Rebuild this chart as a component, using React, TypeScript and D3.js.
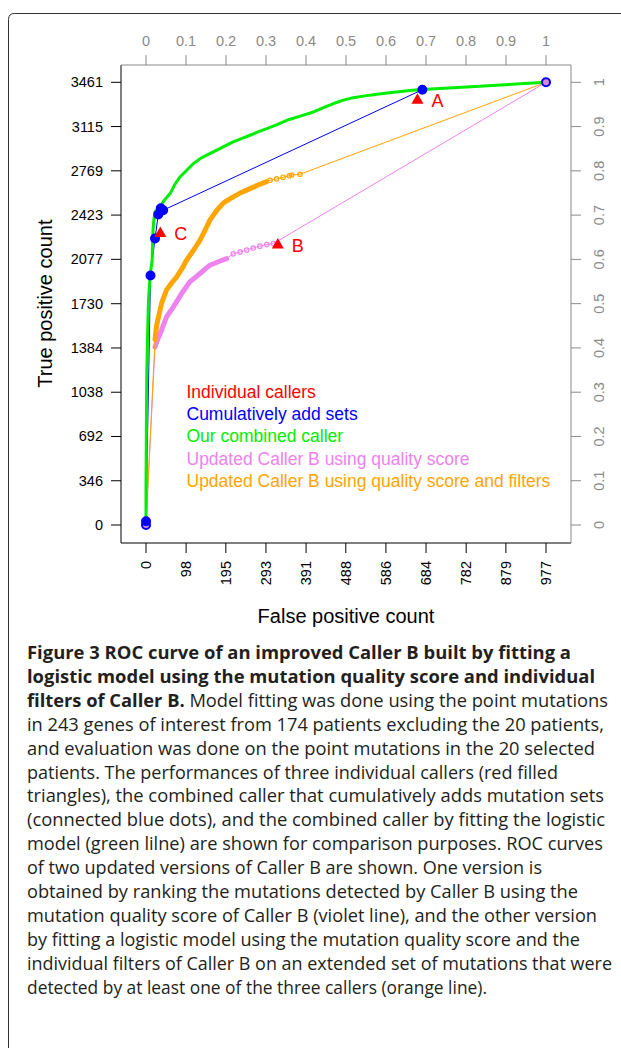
import React from "react";
import * as d3 from "d3";

// axis ticks
const fpTicks = [0, 98, 195, 293, 391, 488, 586, 684, 782, 879, 977];
const tpTicks = [0, 346, 692, 1038, 1384, 1730, 2077, 2423, 2769, 3115, 3461];
const fracTicks = [0, 0.1, 0.2, 0.3, 0.4, 0.5, 0.6, 0.7, 0.8, 0.9, 1];

// our combined caller (green)
const greenFp = [0, 0, 1, 2, 4, 6, 9, 12, 15, 17, 19, 22, 34, 45, 59, 70, 83, 100, 116, 135, 156, 185, 213, 233, 254, 275, 295, 320, 344, 375, 409, 435, 458, 480, 506, 535, 564, 595, 628, 650, 675, 977];
const greenTp = [0, 300, 800, 1200, 1500, 1750, 1900, 2000, 2070, 2300, 2380, 2448, 2487, 2540, 2591, 2660, 2721, 2775, 2826, 2870, 2904, 2950, 2995, 3020, 3047, 3075, 3099, 3130, 3164, 3195, 3229, 3265, 3295, 3320, 3341, 3355, 3367, 3380, 3391, 3398, 3404, 3461];

// cumulatively add sets (blue)
const blueFp = [0, 0, 11, 22, 30, 36, 42, 675, 977];
const blueTp = [0, 30, 1951, 2240, 2427, 2477, 2461, 3403, 3461];

// individual callers (red)
const callerNames = ["A", "B", "C"];
const callerFp = [663, 322, 35];
const callerTp = [3333, 2200, 2291];

// updated Caller B, quality score + filters (orange)
const orangeDenseFp = [22, 26, 38, 50, 62, 75, 87, 99, 116, 132, 145, 156, 173, 190, 213, 233, 254, 275, 295];
const orangeDenseTp = [1450, 1562, 1732, 1836, 1890, 1940, 2000, 2070, 2148, 2227, 2310, 2383, 2461, 2520, 2565, 2600, 2630, 2660, 2685];
const orangeSparseFp = [303, 319, 335, 350, 356, 376];
const orangeSparseTp = [2695, 2706, 2719, 2730, 2736, 2742];

// updated Caller B, quality score (violet)
const violetDenseFp = [22, 26, 38, 50, 67, 87, 107, 132, 156, 178, 197];
const violetDenseTp = [1393, 1430, 1523, 1627, 1705, 1810, 1901, 1966, 2031, 2060, 2083];
const violetSparseFp = [213, 230, 246, 262, 278, 295, 311];
const violetSparseTp = [2120, 2135, 2150, 2165, 2180, 2193, 2200];

const legendItems = [
  "Individual callers",
  "Cumulatively add sets",
  "Our combined caller",
  "Updated Caller B using quality score",
  "Updated Caller B using quality score and filters",
];
const legendColors = ["#ff0000", "#0000ff", "#00ee00", "#ee82ee", "#ffa500"];

const captionBold = [
  "Figure 3 ROC curve of an improved Caller B built by fitting a",
  "logistic model using the mutation quality score and individual",
  "filters of Caller B.",
];
const captionLines = [
  "",
  "",
  " Model fitting was done using the point mutations",
  "in 243 genes of interest from 174 patients excluding the 20 patients,",
  "and evaluation was done on the point mutations in the 20 selected",
  "patients. The performances of three individual callers (red filled",
  "triangles), the combined caller that cumulatively adds mutation sets",
  "(connected blue dots), and the combined caller by fitting the logistic",
  "model (green lilne) are shown for comparison purposes. ROC curves",
  "of two updated versions of Caller B are shown. One version is",
  "obtained by ranking the mutations detected by Caller B using the",
  "mutation quality score of Caller B (violet line), and the other version",
  "by fitting a logistic model using the mutation quality score and the",
  "individual filters of Caller B on an extended set of mutations that were",
  "detected by at least one of the three callers (orange line).",
];
const captionEnds = [571, 595, 608, 604, 595, 558, 604, 605, 603, 542, 578, 597, 580, 612, 487];

const zip = (a: number[], b: number[]) => a.map((v, i) => [v, b[i]] as [number, number]);

export default function App() {
  const x = d3.scaleLinear().domain([0, 977]).range([146, 546]);
  const y = d3.scaleLinear().domain([0, 3461]).range([525, 82.3]);
  const fx = d3.scaleLinear().domain([0, 1]).range([146, 546]);
  const fy = d3.scaleLinear().domain([0, 1]).range([525, 82.3]);
  const line = d3.line<[number, number]>().x(d => x(d[0])).y(d => y(d[1]));

  const box = { l: 121, r: 571, t: 65, b: 543 };
  const font = "'Liberation Sans', Arial, Helvetica, sans-serif";
  const gray = "#8a8a8a";
  const end: [number, number] = [977, 3461];

  const orangeDense = zip(orangeDenseFp, orangeDenseTp);
  const orangeSparse = zip(orangeSparseFp, orangeSparseTp);
  const violetDense = zip(violetDenseFp, violetDenseTp);
  const violetSparse = zip(violetSparseFp, violetSparseTp);
  const blue = zip(blueFp, blueTp);

  return (
    <svg width={621} height={1048} style={{ position: "absolute", left: 0, top: 0, background: "#fff" }}>
      {/* frame */}
      <path d="M8.5,1048 L8.5,19.5 Q8.5,13.5 14.5,13.5 L621,13.5" fill="none" stroke="#333" strokeWidth={1} />

      {/* box */}
      <line x1={box.l} x2={box.l} y1={box.t} y2={box.b} stroke="#000" />
      <line x1={box.l} x2={box.r} y1={box.b} y2={box.b} stroke="#000" />
      <line x1={box.l} x2={box.r} y1={box.t} y2={box.t} stroke={gray} />
      <line x1={box.r} x2={box.r} y1={box.t} y2={box.b} stroke={gray} />

      {/* left axis */}
      <g fontFamily={font} fontSize={14.5} fill="#000">
        {tpTicks.map(t => (
          <g key={"l" + t}>
            <line x1={111} x2={box.l} y1={y(t)} y2={y(t)} stroke="#000" />
            <text x={103} y={y(t)} textAnchor="end" dominantBaseline="central">{t}</text>
          </g>
        ))}
        {fpTicks.map(t => (
          <g key={"b" + t}>
            <line x1={x(t)} x2={x(t)} y1={box.b} y2={553} stroke="#000" />
            <text transform={`translate(${x(t)},561) rotate(-90)`} textAnchor="end" dominantBaseline="central">{t}</text>
          </g>
        ))}
      </g>

      {/* top and right axes */}
      <g fontFamily={font} fontSize={14.5} fill={gray}>
        {fracTicks.map(t => (
          <g key={"t" + t}>
            <line x1={fx(t)} x2={fx(t)} y1={55} y2={box.t} stroke={gray} />
            <text x={fx(t)} y={46} textAnchor="middle">{t}</text>
            <line x1={box.r} x2={581} y1={fy(t)} y2={fy(t)} stroke={gray} />
            <text transform={`translate(${599},${fy(t)}) rotate(-90)`} textAnchor="middle" dominantBaseline="central">{t}</text>
          </g>
        ))}
      </g>

      {/* titles */}
      <text x={346} y={623} textAnchor="middle" fontFamily={font} fontSize={20}>False positive count</text>
      <text transform={`translate(52,${(y(0) + y(3461)) / 2}) rotate(-90)`} textAnchor="middle" fontFamily={font} fontSize={20}>True positive count</text>

      {/* violet */}
      <path d={line([[0, 0], violetDense[0]]) || ""} fill="none" stroke="#ee82ee" strokeWidth={1} />
      <path d={line(violetDense) || ""} fill="none" stroke="#ee82ee" strokeWidth={5} strokeLinejoin="round" strokeLinecap="round" />
      <path d={line([violetDense[violetDense.length - 1], ...violetSparse, end]) || ""} fill="none" stroke="#ee82ee" strokeWidth={1} />
      {violetSparse.map((d, i) => (
        <circle key={"vs" + i} cx={x(d[0])} cy={y(d[1])} r={2.2} fill="none" stroke="#ee82ee" strokeWidth={1.2} />
      ))}

      {/* orange */}
      <path d={line([[0, 0], orangeDense[0]]) || ""} fill="none" stroke="#ffa500" strokeWidth={1} />
      <path d={line(orangeDense) || ""} fill="none" stroke="#ffa500" strokeWidth={5} strokeLinejoin="round" strokeLinecap="round" />
      <path d={line([orangeDense[orangeDense.length - 1], ...orangeSparse, end]) || ""} fill="none" stroke="#ffa500" strokeWidth={1} />
      {orangeSparse.map((d, i) => (
        <circle key={"os" + i} cx={x(d[0])} cy={y(d[1])} r={2.2} fill="none" stroke="#ffa500" strokeWidth={1.2} />
      ))}

      {/* blue cumulative */}
      <path d={line(blue) || ""} fill="none" stroke="#0000ff" strokeWidth={1} />

      {/* green */}
      <path d={line(zip(greenFp, greenTp)) || ""} fill="none" stroke="#00ee00" strokeWidth={3} strokeLinejoin="round" />

      {blue.map((d, i) => {
        const ring = i === 0 || i === blue.length - 1;
        return (
          <g key={"bd" + i}>
            <circle cx={x(d[0])} cy={y(d[1])} r={4} fill={ring ? "#d98bd0" : "#0000ff"} stroke="#0000ff" strokeWidth={2} />
          </g>
        );
      })}

      {/* individual callers */}
      {callerNames.map((n, i) => {
        const cx = x(callerFp[i]);
        const cy = y(callerTp[i]);
        return (
          <g key={n}>
            <path d={`M${cx - 6},${cy + 5} L${cx + 6},${cy + 5} L${cx},${cy - 5.5} Z`} fill="#ff0000" />
            <text x={cx + 14} y={cy + 8} fontFamily={font} fontSize={18} fill="#ff0000">{n}</text>
          </g>
        );
      })}

      {/* legend */}
      <g fontFamily={font} fontSize={17.5}>
        {legendItems.map((s, i) => (
          <text key={s} x={186.5} y={398 + i * 22.2} fill={legendColors[i]}>{s}</text>
        ))}
      </g>

      {/* caption */}
      <g fontFamily="'Open Sans', 'Noto Sans', sans-serif" fontSize={18} fill="#231f20">
        {captionLines.map((s, i) => (
          <text key={"c" + i} x={27} y={659 + i * 23.9} textLength={captionEnds[i] - 27} lengthAdjust="spacingAndGlyphs">
            {captionBold[i] ? <tspan fontWeight="bold">{captionBold[i]}</tspan> : null}
            {s}
          </text>
        ))}
      </g>
    </svg>
  );
}
